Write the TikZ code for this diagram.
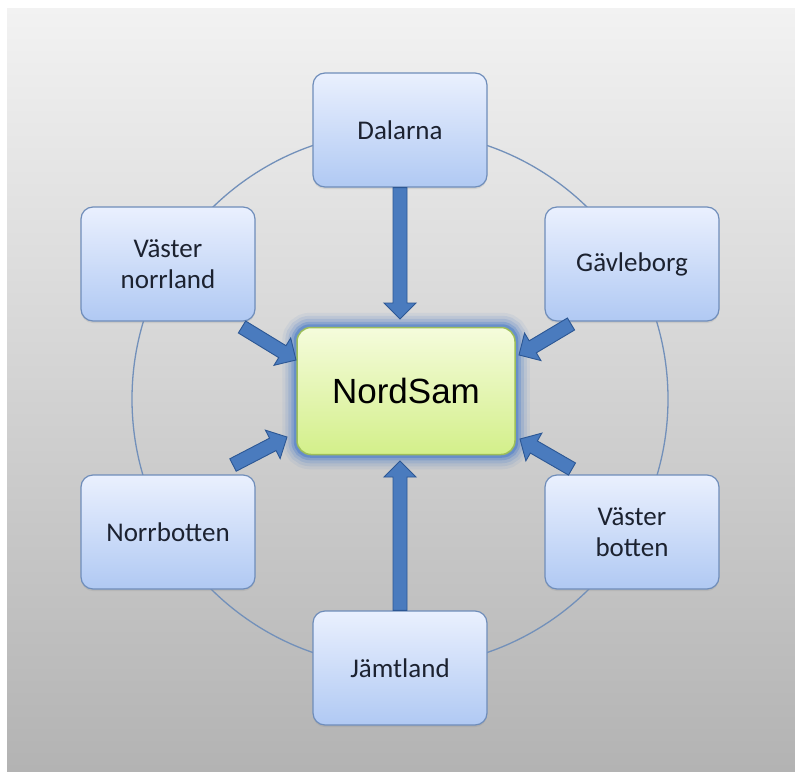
\documentclass[tikz,border=0pt]{standalone}
\usepackage{fontspec}
\setmainfont{Carlito}
\newfontfamily\arialfont{Liberation Sans}
\usetikzlibrary{calc,shadows}
\pgfdeclarelayer{bg}
\pgfdeclarelayer{mid}
\pgfsetlayers{bg,mid,main}
\definecolor{boxtop}{HTML}{EAF0FE}
\definecolor{boxbot}{HTML}{B0C9F3}
\definecolor{boxline}{HTML}{6F8DBA}
\definecolor{txt}{HTML}{1C2230}
\definecolor{gtop}{HTML}{F5FCDC}
\definecolor{gbot}{HTML}{D3EF8A}
\definecolor{gline}{HTML}{9DBE5A}
\definecolor{glowc}{HTML}{4A7CC8}
\definecolor{arrfill}{HTML}{4A7BBE}
\definecolor{arrline}{HTML}{2C5794}
\definecolor{ring}{HTML}{7290BA}
\definecolor{bgtop}{HTML}{F2F2F2}
\definecolor{bgbot}{HTML}{B3B3B3}
\newcommand{\blockarrow}[2]{%
  \coordinate (hh) at ($(#2)!16pt!(#1)$);
  \draw[barrow] ($(#1)!7pt!90:(#2)$) -- ($(hh)!7pt!90:(#2)$) -- ($(hh)!16pt!90:(#2)$) -- (#2)
    -- ($(hh)!16pt!-90:(#2)$) -- ($(hh)!7pt!-90:(#2)$) -- ($(#1)!7pt!-90:(#2)$) -- cycle;}
\begin{document}
\begin{tikzpicture}[x=1pt,y=-1pt,
  region/.style={draw=boxline, line width=1.2pt, rounded corners=12pt,
    top color=boxtop, bottom color=boxbot, minimum width=174pt, minimum height=114pt,
    align=center, font=\fontsize{27}{31}\selectfont, text=txt,
    drop shadow={opacity=0.18, shadow xshift=0pt, shadow yshift=-2pt}},
  core/.style={draw=gline, line width=1.5pt, rounded corners=14pt,
    top color=gtop, bottom color=gbot, minimum width=218pt, minimum height=127pt,
    font=\arialfont\fontsize{35}{40}\selectfont, text=black},
  barrow/.style={fill=arrfill, draw=arrline, line width=0.9pt, line join=miter}]
\useasboundingbox (0,0) rectangle (795,771);
\begin{pgfonlayer}{bg}
  \fill[white] (0,0) rectangle (795,771);
  \fill[top color=bgtop, bottom color=bgbot] (7,8) rectangle (795,771);
\end{pgfonlayer}
\node[region] (dal) at (400,130) {Dalarna};
\node[region] (vn) at (168,264) {Väster\\norrland};
\node[region] (gav) at (632,264) {Gävleborg};
\node[region] (nb) at (168,532) {Norrbotten};
\node[region] (vb) at (632,532) {Väster\\botten};
\node[region] (jam) at (400,668) {Jämtland};
\node[core] (ns) at (406,391) {NordSam};
\begin{pgfonlayer}{mid}
  \draw[ring, line width=1.3pt] (400,399) circle[radius=268];
  \foreach \w/\o in {28/0.08,22/0.12,16/0.18,10/0.3,5/0.5}
    \draw[glowc, line width=\w pt, opacity=\o, rounded corners=14pt] (ns.south west) rectangle (ns.north east);
\end{pgfonlayer}
\coordinate (dalB) at (400,319);
\coordinate (jamB) at (400,461);
\coordinate (vnA) at (242,327);
\coordinate (vnB) at (296,360);
\coordinate (gavA) at (571,324);
\coordinate (gavB) at (519,355);
\coordinate (nbA) at (233,465);
\coordinate (nbB) at (287,437);
\coordinate (vbA) at (572,469);
\coordinate (vbB) at (520,439);
\blockarrow{dal.south}{dalB}
\blockarrow{jam.north}{jamB}
\blockarrow{vnA}{vnB}
\blockarrow{gavA}{gavB}
\blockarrow{nbA}{nbB}
\blockarrow{vbA}{vbB}
\end{tikzpicture}
\end{document}
